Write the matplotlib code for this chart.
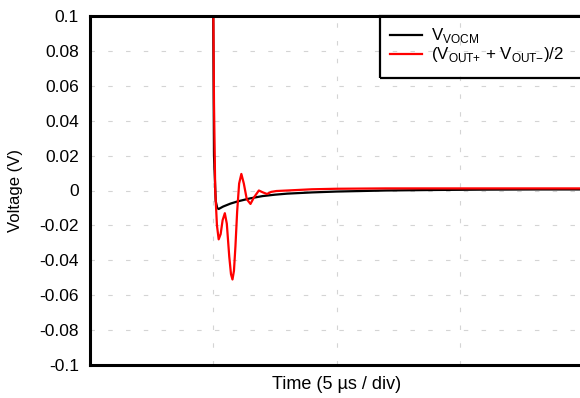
import matplotlib
matplotlib.use('Agg')
import matplotlib.pyplot as plt
from matplotlib.patches import Rectangle

plt.rcParams['font.family'] = ['Liberation Sans', 'DejaVu Sans']
plt.rcParams['mathtext.fontset'] = 'custom'
plt.rcParams['mathtext.rm'] = 'Liberation Sans'

# time in microseconds (5 us / div), voltage in V
t_vocm = [0.0, 4.98, 5.03, 5.10, 5.16, 5.22, 5.40, 5.70, 6.00, 6.50, 7.00, 7.50,
          8.00, 9.00, 10.0, 11.0, 12.0, 14.0, 16.0, 18.0, 20.0]
v_vocm = [0.15, 0.15, 0.02, -0.006, -0.0100, -0.0106, -0.0092, -0.0075, -0.0062,
          -0.0045, -0.0032, -0.0024, -0.0018, -0.0011, -0.0006, -0.0003, 0.0,
          0.0003, 0.0005, 0.0006, 0.0006]

t_out = [0.0, 4.98, 5.03, 5.08, 5.15, 5.22, 5.30, 5.38, 5.47, 5.55, 5.65, 5.72,
         5.78, 5.84, 5.90, 5.97, 6.05, 6.14, 6.24, 6.36, 6.51, 6.65, 6.85, 7.00,
         7.18, 7.35, 7.56, 8.0, 9.0, 10.0, 12.0, 14.0, 16.0, 18.0, 20.0]
v_out = [0.15, 0.15, 0.05, 0.0, -0.02, -0.028, -0.025, -0.017, -0.013, -0.019,
         -0.038, -0.048, -0.051, -0.046, -0.032, -0.012, 0.004, 0.0095, 0.004,
         -0.005, -0.0077, -0.004, 0.0, -0.001, -0.002, -0.0008, -0.0003, 0.0,
         0.0007, 0.001, 0.0012, 0.0012, 0.0012, 0.0012, 0.0012]

yticks = [0.1, 0.08, 0.06, 0.04, 0.02, 0, -0.02, -0.04, -0.06, -0.08, -0.1]
ytick_labels = ['0.1', '0.08', '0.06', '0.04', '0.02', '0', '-0.02', '-0.04',
                '-0.06', '-0.08', '-0.1']
xgrid = [5, 10, 15]

fig = plt.figure(figsize=(5.8, 3.98), dpi=100)
ax = fig.add_axes([90 / 580, 33 / 398, 493 / 580, 349 / 398])

for y in yticks[1:-1]:
    ax.axhline(y, color='#d4d4d4', lw=0.8, dashes=(4, 12), zorder=0)
for x in xgrid:
    ax.axvline(x, color='#d4d4d4', lw=0.8, dashes=(4, 12), zorder=0)

ax.plot(t_vocm, v_vocm, color='black', lw=1.6, label='V$_{\\mathregular{VOCM}}$')
ax.plot(t_out, v_out, color='#ff0000', lw=1.6,
        label='(V$_{\\mathregular{OUT{+}}}$ + V$_{\\mathregular{OUT{\u2212}}}$)/2')

ax.set_xlim(0, 20)
ax.set_ylim(-0.1, 0.1)
ax.set_xticks([])
ax.set_yticks(yticks)
ax.set_yticklabels(ytick_labels)
ax.tick_params(axis='y', length=0, pad=8, labelsize=12.5)
for s in ax.spines.values():
    s.set_linewidth(2.2)

ax.set_xlabel('Time (5 \u00b5s / div)', fontsize=13, labelpad=8)
ax.set_ylabel('Voltage (V)', fontsize=12, labelpad=12)

ax.add_patch(Rectangle((0.588, 0.822), 0.5, 0.178, transform=ax.transAxes,
                       fill=False, edgecolor='black', lw=1.6, clip_on=False, zorder=5))
ax.legend(loc='upper left', bbox_to_anchor=(0.608, 0.97), frameon=False,
          borderpad=0, borderaxespad=0, labelspacing=0.0, handlelength=1.9,
          handletextpad=0.56, fontsize=12.2)

plt.savefig('out.png', dpi=100)
